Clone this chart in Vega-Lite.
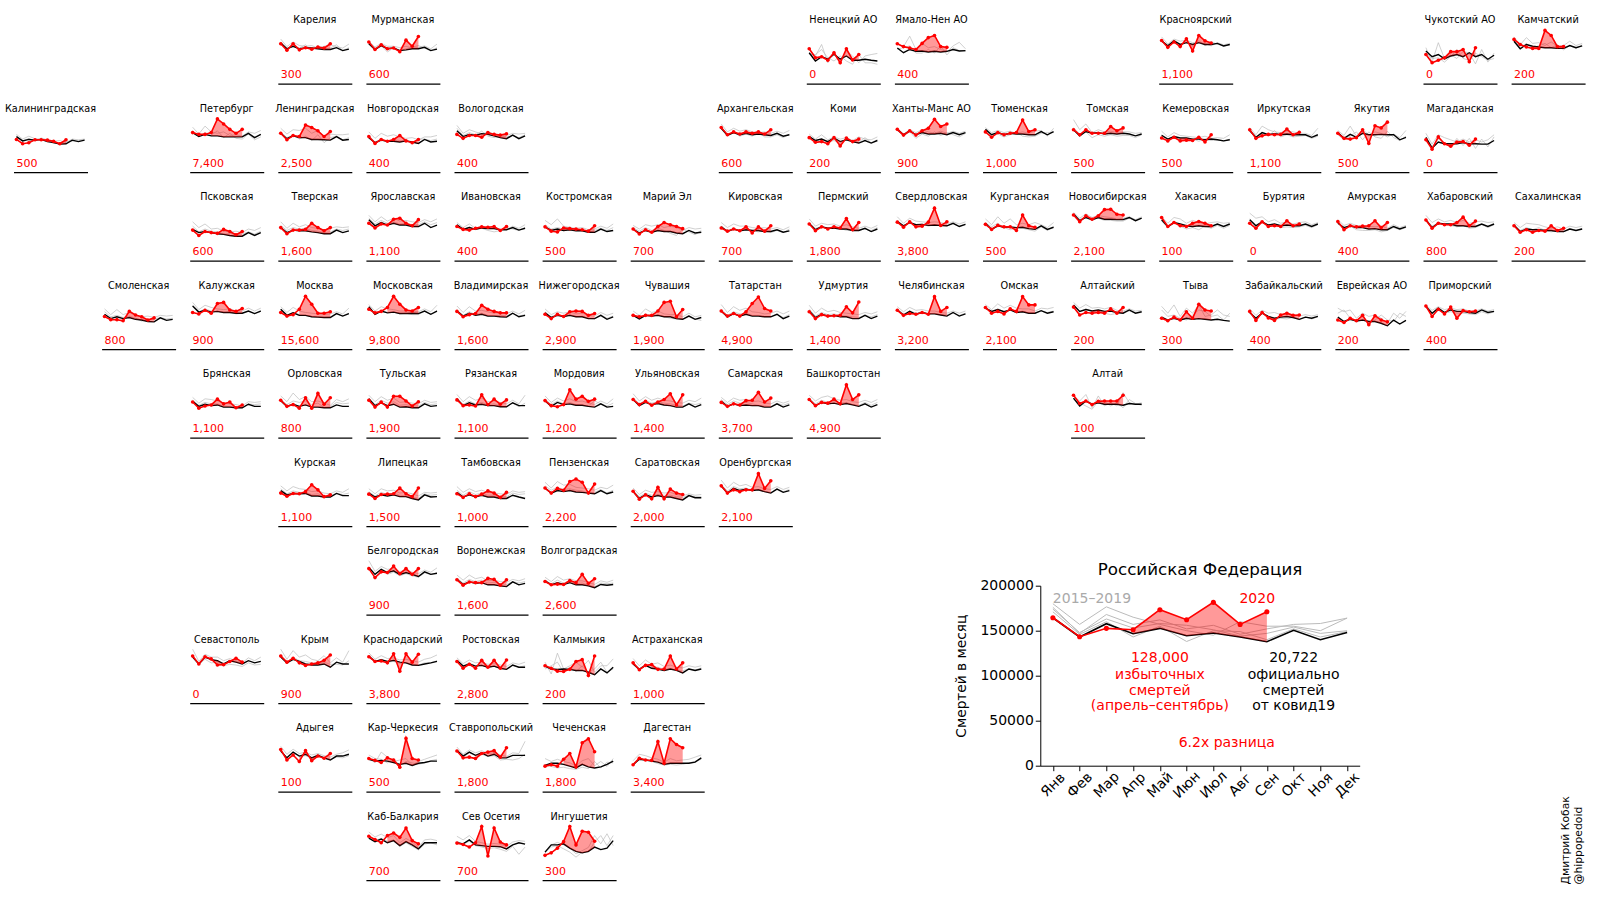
{"$schema":"https://vega.github.io/schema/vega-lite/v6.json","padding":{"left":4.5,"top":11.7,"right":5,"bottom":5},"config":{"view":{"stroke":null},"font":"DejaVu Sans"},"spacing":10.8,
"datasets":{"regions":[{"i":1,"n":"Калининградская","row":1,"col":0,"e":500},{"i":2,"n":"Карелия","row":0,"col":3,"e":300},{"i":3,"n":"Мурманская","row":0,"col":4,"e":600},{"i":4,"n":"Ненецкий АО","row":0,"col":9,"e":0},{"i":5,"n":"Ямало-Нен АО","row":0,"col":10,"e":400},{"i":6,"n":"Красноярский","row":0,"col":13,"e":1100},{"i":7,"n":"Чукотский АО","row":0,"col":16,"e":0},{"i":8,"n":"Камчатский","row":0,"col":17,"e":200},{"i":9,"n":"Петербург","row":1,"col":2,"e":7400},{"i":10,"n":"Ленинградская","row":1,"col":3,"e":2500},{"i":11,"n":"Новгородская","row":1,"col":4,"e":400},{"i":12,"n":"Вологодская","row":1,"col":5,"e":400},{"i":13,"n":"Архангельская","row":1,"col":8,"e":600},{"i":14,"n":"Коми","row":1,"col":9,"e":200},{"i":15,"n":"Ханты-Манс АО","row":1,"col":10,"e":900},{"i":16,"n":"Тюменская","row":1,"col":11,"e":1000},{"i":17,"n":"Томская","row":1,"col":12,"e":500},{"i":18,"n":"Кемеровская","row":1,"col":13,"e":500},{"i":19,"n":"Иркутская","row":1,"col":14,"e":1100},{"i":20,"n":"Якутия","row":1,"col":15,"e":500},{"i":21,"n":"Магаданская","row":1,"col":16,"e":0},{"i":22,"n":"Псковская","row":2,"col":2,"e":600},{"i":23,"n":"Тверская","row":2,"col":3,"e":1600},{"i":24,"n":"Ярославская","row":2,"col":4,"e":1100},{"i":25,"n":"Ивановская","row":2,"col":5,"e":400},{"i":26,"n":"Костромская","row":2,"col":6,"e":500},{"i":27,"n":"Марий Эл","row":2,"col":7,"e":700},{"i":28,"n":"Кировская","row":2,"col":8,"e":700},{"i":29,"n":"Пермский","row":2,"col":9,"e":1800},{"i":30,"n":"Свердловская","row":2,"col":10,"e":3800},{"i":31,"n":"Курганская","row":2,"col":11,"e":500},{"i":32,"n":"Новосибирская","row":2,"col":12,"e":2100},{"i":33,"n":"Хакасия","row":2,"col":13,"e":100},{"i":34,"n":"Бурятия","row":2,"col":14,"e":0},{"i":35,"n":"Амурская","row":2,"col":15,"e":400},{"i":36,"n":"Хабаровский","row":2,"col":16,"e":800},{"i":37,"n":"Сахалинская","row":2,"col":17,"e":200},{"i":38,"n":"Смоленская","row":3,"col":1,"e":800},{"i":39,"n":"Калужская","row":3,"col":2,"e":900},{"i":40,"n":"Москва","row":3,"col":3,"e":15600},{"i":41,"n":"Московская","row":3,"col":4,"e":9800},{"i":42,"n":"Владимирская","row":3,"col":5,"e":1600},{"i":43,"n":"Нижегородская","row":3,"col":6,"e":2900},{"i":44,"n":"Чувашия","row":3,"col":7,"e":1900},{"i":45,"n":"Татарстан","row":3,"col":8,"e":4900},{"i":46,"n":"Удмуртия","row":3,"col":9,"e":1400},{"i":47,"n":"Челябинская","row":3,"col":10,"e":3200},{"i":48,"n":"Омская","row":3,"col":11,"e":2100},{"i":49,"n":"Алтайский","row":3,"col":12,"e":200},{"i":50,"n":"Тыва","row":3,"col":13,"e":300},{"i":51,"n":"Забайкальский","row":3,"col":14,"e":400},{"i":52,"n":"Еврейская АО","row":3,"col":15,"e":200},{"i":53,"n":"Приморский","row":3,"col":16,"e":400},{"i":54,"n":"Брянская","row":4,"col":2,"e":1100},{"i":55,"n":"Орловская","row":4,"col":3,"e":800},{"i":56,"n":"Тульская","row":4,"col":4,"e":1900},{"i":57,"n":"Рязанская","row":4,"col":5,"e":1100},{"i":58,"n":"Мордовия","row":4,"col":6,"e":1200},{"i":59,"n":"Ульяновская","row":4,"col":7,"e":1400},{"i":60,"n":"Самарская","row":4,"col":8,"e":3700},{"i":61,"n":"Башкортостан","row":4,"col":9,"e":4900},{"i":62,"n":"Алтай","row":4,"col":12,"e":100},{"i":63,"n":"Курская","row":5,"col":3,"e":1100},{"i":64,"n":"Липецкая","row":5,"col":4,"e":1500},{"i":65,"n":"Тамбовская","row":5,"col":5,"e":1000},{"i":66,"n":"Пензенская","row":5,"col":6,"e":2200},{"i":67,"n":"Саратовская","row":5,"col":7,"e":2000},{"i":68,"n":"Оренбургская","row":5,"col":8,"e":2100},{"i":69,"n":"Белгородская","row":6,"col":4,"e":900},{"i":70,"n":"Воронежская","row":6,"col":5,"e":1600},{"i":71,"n":"Волгоградская","row":6,"col":6,"e":2600},{"i":72,"n":"Севастополь","row":7,"col":2,"e":0},{"i":73,"n":"Крым","row":7,"col":3,"e":900},{"i":74,"n":"Краснодарский","row":7,"col":4,"e":3800},{"i":75,"n":"Ростовская","row":7,"col":5,"e":2800},{"i":76,"n":"Калмыкия","row":7,"col":6,"e":200},{"i":77,"n":"Астраханская","row":7,"col":7,"e":1000},{"i":78,"n":"Адыгея","row":8,"col":3,"e":100},{"i":79,"n":"Кар-Черкесия","row":8,"col":4,"e":500},{"i":80,"n":"Ставропольский","row":8,"col":5,"e":1800},{"i":81,"n":"Чеченская","row":8,"col":6,"e":1800},{"i":82,"n":"Дагестан","row":8,"col":7,"e":3400},{"i":83,"n":"Каб-Балкария","row":9,"col":4,"e":700},{"i":84,"n":"Сев Осетия","row":9,"col":5,"e":700},{"i":85,"n":"Ингушетия","row":9,"col":6,"e":300}],
"panels":[
{"i":1,"m":1,"a":105,"b":101,"k":99,"v":91},{"i":1,"m":2,"a":92,"b":86,"k":87,"v":79},{"i":1,"m":3,"a":100,"b":94,"k":91,"v":82},{"i":1,"m":4,"a":93,"b":87,"k":89,"v":90},{"i":1,"m":5,"a":92,"b":95,"k":91,"v":90},{"i":1,"m":6,"a":89,"b":90,"k":85,"v":89},{"i":1,"m":7,"a":86,"b":80,"k":82,"v":86},{"i":1,"m":8,"a":88,"b":82,"k":78,"v":79},{"i":1,"m":9,"a":82,"b":85,"k":79,"v":90},{"i":1,"m":10,"a":92,"b":86,"k":89},{"i":1,"m":11,"a":90,"b":87,"k":85},{"i":1,"m":12,"a":92,"b":91,"k":89},
{"i":2,"m":1,"a":124,"b":116,"k":113,"v":111},{"i":2,"m":2,"a":103,"b":99,"k":97,"v":93},{"i":2,"m":3,"a":116,"b":106,"k":104,"v":111},{"i":2,"m":4,"a":106,"b":99,"k":97,"v":94},{"i":2,"m":5,"a":104,"b":108,"k":99,"v":100},{"i":2,"m":6,"a":106,"b":93,"k":99,"v":96},{"i":2,"m":7,"a":99,"b":105,"k":97,"v":102},{"i":2,"m":8,"a":104,"b":97,"k":95,"v":99},{"i":2,"m":9,"a":108,"b":99,"k":95,"v":111},{"i":2,"m":10,"a":103,"b":108,"k":100},{"i":2,"m":11,"a":99,"b":92,"k":92},{"i":2,"m":12,"a":110,"b":100,"k":96},
{"i":3,"m":1,"a":118,"b":114,"k":111,"v":116},{"i":3,"m":2,"a":102,"b":99,"k":95,"v":95},{"i":3,"m":3,"a":112,"b":106,"k":106,"v":108},{"i":3,"m":4,"a":104,"b":88,"k":97,"v":97},{"i":3,"m":5,"a":104,"b":100,"k":99,"v":99},{"i":3,"m":6,"a":100,"b":92,"k":92,"v":89},{"i":3,"m":7,"a":104,"b":97,"k":94,"v":121},{"i":3,"m":8,"a":99,"b":101,"k":97,"v":104},{"i":3,"m":9,"a":101,"b":106,"k":97,"v":131},{"i":3,"m":10,"a":105,"b":99,"k":101},{"i":3,"m":11,"a":97,"b":92,"k":92},{"i":3,"m":12,"a":110,"b":100,"k":96},
{"i":4,"m":1,"a":95,"b":81,"k":86,"v":97},{"i":4,"m":2,"a":77,"b":81,"k":63,"v":72},{"i":4,"m":3,"a":109,"b":95,"k":75,"v":75},{"i":4,"m":4,"a":58,"b":72,"k":68,"v":65},{"i":4,"m":5,"a":91,"b":63,"k":82,"v":86},{"i":4,"m":6,"a":54,"b":77,"k":68,"v":58},{"i":4,"m":7,"a":91,"b":63,"k":77,"v":97},{"i":4,"m":8,"a":77,"b":54,"k":65,"v":66},{"i":4,"m":9,"a":58,"b":81,"k":65,"v":81},{"i":4,"m":10,"a":77,"b":58,"k":68},{"i":4,"m":11,"a":81,"b":58,"k":65},{"i":4,"m":12,"a":84,"b":54,"k":63},
{"i":5,"m":1,"a":111,"b":96,"k":99,"v":111},{"i":5,"m":2,"a":103,"b":100,"k":86,"v":103},{"i":5,"m":3,"a":132,"b":105,"k":95,"v":99},{"i":5,"m":4,"a":95,"b":85,"k":90,"v":95},{"i":5,"m":5,"a":112,"b":85,"k":91,"v":112},{"i":5,"m":6,"a":100,"b":95,"k":88,"v":128},{"i":5,"m":7,"a":103,"b":85,"k":90,"v":134},{"i":5,"m":8,"a":95,"b":105,"k":88,"v":103},{"i":5,"m":9,"a":88,"b":80,"k":90,"v":101},{"i":5,"m":10,"a":105,"b":100,"k":95},{"i":5,"m":11,"a":115,"b":92,"k":91},{"i":5,"m":12,"a":97,"b":90,"k":92},
{"i":6,"m":1,"a":130,"b":122,"k":119,"v":120},{"i":6,"m":2,"a":110,"b":103,"k":105,"v":101},{"i":6,"m":3,"a":124,"b":118,"k":119,"v":116},{"i":6,"m":4,"a":118,"b":104,"k":109,"v":103},{"i":6,"m":5,"a":121,"b":118,"k":114,"v":125},{"i":6,"m":6,"a":114,"b":104,"k":109,"v":91},{"i":6,"m":7,"a":116,"b":120,"k":114,"v":134},{"i":6,"m":8,"a":112,"b":105,"k":109,"v":119},{"i":6,"m":9,"a":105,"b":116,"k":109,"v":113},{"i":6,"m":10,"a":114,"b":110,"k":112},{"i":6,"m":11,"a":108,"b":104,"k":105},{"i":6,"m":12,"a":112,"b":108,"k":109},
{"i":7,"m":1,"a":100,"b":85,"k":91,"v":81},{"i":7,"m":2,"a":60,"b":70,"k":75,"v":58},{"i":7,"m":3,"a":114,"b":72,"k":81,"v":65},{"i":7,"m":4,"a":70,"b":60,"k":69,"v":72},{"i":7,"m":5,"a":80,"b":75,"k":77,"v":89},{"i":7,"m":6,"a":70,"b":95,"k":81,"v":89},{"i":7,"m":7,"a":90,"b":70,"k":75,"v":95},{"i":7,"m":8,"a":85,"b":65,"k":86,"v":61},{"i":7,"m":9,"a":55,"b":85,"k":75,"v":100},{"i":7,"m":10,"a":95,"b":75,"k":81},{"i":7,"m":11,"a":60,"b":65,"k":68},{"i":7,"m":12,"a":85,"b":70,"k":79},
{"i":8,"m":1,"a":130,"b":122,"k":118,"v":123},{"i":8,"m":2,"a":108,"b":100,"k":97,"v":109},{"i":8,"m":3,"a":128,"b":112,"k":109,"v":102},{"i":8,"m":4,"a":112,"b":98,"k":104,"v":98},{"i":8,"m":5,"a":114,"b":106,"k":102,"v":98},{"i":8,"m":6,"a":106,"b":112,"k":100,"v":148},{"i":8,"m":7,"a":116,"b":100,"k":100,"v":134},{"i":8,"m":8,"a":104,"b":108,"k":98,"v":103},{"i":8,"m":9,"a":106,"b":94,"k":98,"v":103},{"i":8,"m":10,"a":118,"b":106,"k":106},{"i":8,"m":11,"a":106,"b":98,"k":100},{"i":8,"m":12,"a":112,"b":108,"k":105},
{"i":9,"m":1,"a":125,"b":115,"k":110,"v":110},{"i":9,"m":2,"a":106,"b":100,"k":99,"v":105},{"i":9,"m":3,"a":128,"b":110,"k":105,"v":105},{"i":9,"m":4,"a":112,"b":103,"k":101,"v":110},{"i":9,"m":5,"a":108,"b":115,"k":101,"v":148},{"i":9,"m":6,"a":112,"b":96,"k":98,"v":134},{"i":9,"m":7,"a":102,"b":108,"k":98,"v":119},{"i":9,"m":8,"a":104,"b":94,"k":98,"v":108},{"i":9,"m":9,"a":100,"b":92,"k":98,"v":119},{"i":9,"m":10,"a":112,"b":106,"k":108},{"i":9,"m":11,"a":108,"b":90,"k":96},{"i":9,"m":12,"a":116,"b":98,"k":105},
{"i":10,"m":1,"a":122,"b":112,"k":108,"v":108},{"i":10,"m":2,"a":106,"b":96,"k":93,"v":90},{"i":10,"m":3,"a":118,"b":104,"k":101,"v":102},{"i":10,"m":4,"a":116,"b":92,"k":96,"v":99},{"i":10,"m":5,"a":122,"b":100,"k":96,"v":131},{"i":10,"m":6,"a":108,"b":88,"k":91,"v":124},{"i":10,"m":7,"a":116,"b":104,"k":91,"v":115},{"i":10,"m":8,"a":100,"b":82,"k":90,"v":99},{"i":10,"m":9,"a":106,"b":96,"k":89,"v":113},{"i":10,"m":10,"a":104,"b":100,"k":99},{"i":10,"m":11,"a":104,"b":90,"k":89},{"i":10,"m":12,"a":106,"b":96,"k":91},
{"i":11,"m":1,"a":112,"b":102,"k":96,"v":99},{"i":11,"m":2,"a":94,"b":84,"k":82,"v":80},{"i":11,"m":3,"a":108,"b":92,"k":89,"v":91},{"i":11,"m":4,"a":100,"b":84,"k":86,"v":86},{"i":11,"m":5,"a":104,"b":90,"k":86,"v":91},{"i":11,"m":6,"a":98,"b":88,"k":84,"v":102},{"i":11,"m":7,"a":94,"b":86,"k":87,"v":87},{"i":11,"m":8,"a":96,"b":80,"k":84,"v":82},{"i":11,"m":9,"a":90,"b":92,"k":80,"v":91},{"i":11,"m":10,"a":98,"b":92,"k":91},{"i":11,"m":11,"a":98,"b":88,"k":84},{"i":11,"m":12,"a":102,"b":92,"k":86},
{"i":12,"m":1,"a":130,"b":122,"k":115,"v":105},{"i":12,"m":2,"a":108,"b":102,"k":99,"v":94},{"i":12,"m":3,"a":118,"b":110,"k":105,"v":102},{"i":12,"m":4,"a":112,"b":104,"k":102,"v":102},{"i":12,"m":5,"a":106,"b":114,"k":107,"v":97},{"i":12,"m":6,"a":112,"b":100,"k":105,"v":110},{"i":12,"m":7,"a":106,"b":96,"k":101,"v":105},{"i":12,"m":8,"a":104,"b":100,"k":96,"v":103},{"i":12,"m":9,"a":102,"b":98,"k":93,"v":107},{"i":12,"m":10,"a":108,"b":102,"k":103},{"i":12,"m":11,"a":106,"b":96,"k":93},{"i":12,"m":12,"a":108,"b":104,"k":101},
{"i":13,"m":1,"a":134,"b":126,"k":122,"v":124},{"i":13,"m":2,"a":112,"b":106,"k":102,"v":104},{"i":13,"m":3,"a":122,"b":112,"k":110,"v":112},{"i":13,"m":4,"a":114,"b":100,"k":104,"v":106},{"i":13,"m":5,"a":118,"b":106,"k":108,"v":112},{"i":13,"m":6,"a":112,"b":100,"k":104,"v":108},{"i":13,"m":7,"a":110,"b":112,"k":106,"v":112},{"i":13,"m":8,"a":112,"b":98,"k":104,"v":106},{"i":13,"m":9,"a":108,"b":98,"k":102,"v":118},{"i":13,"m":10,"a":114,"b":104,"k":108},{"i":13,"m":11,"a":108,"b":96,"k":100},{"i":13,"m":12,"a":116,"b":106,"k":104},
{"i":14,"m":1,"a":106,"b":100,"k":99,"v":96},{"i":14,"m":2,"a":92,"b":86,"k":88,"v":83},{"i":14,"m":3,"a":104,"b":92,"k":92,"v":85},{"i":14,"m":4,"a":90,"b":84,"k":85,"v":79},{"i":14,"m":5,"a":98,"b":88,"k":95,"v":96},{"i":14,"m":6,"a":92,"b":80,"k":85,"v":73},{"i":14,"m":7,"a":96,"b":92,"k":90,"v":95},{"i":14,"m":8,"a":88,"b":82,"k":85,"v":85},{"i":14,"m":9,"a":98,"b":84,"k":81,"v":92},{"i":14,"m":10,"a":92,"b":96,"k":88},{"i":14,"m":11,"a":90,"b":82,"k":81},{"i":14,"m":12,"a":98,"b":90,"k":88},
{"i":15,"m":1,"a":122,"b":116,"k":119,"v":119},{"i":15,"m":2,"a":106,"b":100,"k":104,"v":103},{"i":15,"m":3,"a":118,"b":112,"k":115,"v":115},{"i":15,"m":4,"a":110,"b":94,"k":104,"v":103},{"i":15,"m":5,"a":118,"b":106,"k":110,"v":115},{"i":15,"m":6,"a":112,"b":100,"k":106,"v":122},{"i":15,"m":7,"a":108,"b":112,"k":106,"v":147},{"i":15,"m":8,"a":114,"b":102,"k":108,"v":127},{"i":15,"m":9,"a":108,"b":110,"k":104,"v":134},{"i":15,"m":10,"a":114,"b":104,"k":110},{"i":15,"m":11,"a":108,"b":98,"k":104},{"i":15,"m":12,"a":114,"b":108,"k":110},
{"i":16,"m":1,"a":124,"b":112,"k":119,"v":112},{"i":16,"m":2,"a":110,"b":100,"k":104,"v":97},{"i":16,"m":3,"a":116,"b":106,"k":110,"v":110},{"i":16,"m":4,"a":110,"b":98,"k":104,"v":104},{"i":16,"m":5,"a":114,"b":104,"k":108,"v":108},{"i":16,"m":6,"a":108,"b":112,"k":106,"v":110},{"i":16,"m":7,"a":112,"b":100,"k":106,"v":145},{"i":16,"m":8,"a":108,"b":98,"k":104,"v":113},{"i":16,"m":9,"a":114,"b":100,"k":104,"v":118},{"i":16,"m":10,"a":116,"b":108,"k":113},{"i":16,"m":11,"a":100,"b":110,"k":104},{"i":16,"m":12,"a":122,"b":110,"k":113},
{"i":17,"m":1,"a":146,"b":124,"k":118,"v":118},{"i":17,"m":2,"a":118,"b":106,"k":101,"v":104},{"i":17,"m":3,"a":134,"b":112,"k":113,"v":118},{"i":17,"m":4,"a":110,"b":96,"k":108,"v":108},{"i":17,"m":5,"a":118,"b":104,"k":110,"v":108},{"i":17,"m":6,"a":112,"b":100,"k":106,"v":108},{"i":17,"m":7,"a":114,"b":104,"k":108,"v":127},{"i":17,"m":8,"a":110,"b":100,"k":106,"v":115},{"i":17,"m":9,"a":112,"b":102,"k":108,"v":123},{"i":17,"m":10,"a":112,"b":102,"k":106},{"i":17,"m":11,"a":108,"b":96,"k":101},{"i":17,"m":12,"a":110,"b":104,"k":106},
{"i":18,"m":1,"a":114,"b":104,"k":102,"v":95},{"i":18,"m":2,"a":98,"b":90,"k":92,"v":87},{"i":18,"m":3,"a":110,"b":98,"k":99,"v":97},{"i":18,"m":4,"a":102,"b":90,"k":95,"v":87},{"i":18,"m":5,"a":100,"b":88,"k":95,"v":89},{"i":18,"m":6,"a":98,"b":92,"k":92,"v":88},{"i":18,"m":7,"a":96,"b":86,"k":92,"v":97},{"i":18,"m":8,"a":100,"b":92,"k":90,"v":84},{"i":18,"m":9,"a":94,"b":88,"k":92,"v":104},{"i":18,"m":10,"a":96,"b":90,"k":90},{"i":18,"m":11,"a":94,"b":86,"k":87},{"i":18,"m":12,"a":104,"b":92,"k":90},
{"i":19,"m":1,"a":124,"b":112,"k":116,"v":118},{"i":19,"m":2,"a":104,"b":96,"k":97,"v":94},{"i":19,"m":3,"a":128,"b":108,"k":110,"v":101},{"i":19,"m":4,"a":118,"b":100,"k":104,"v":105},{"i":19,"m":5,"a":112,"b":116,"k":107,"v":104},{"i":19,"m":6,"a":110,"b":98,"k":104,"v":105},{"i":19,"m":7,"a":114,"b":104,"k":106,"v":120},{"i":19,"m":8,"a":112,"b":98,"k":104,"v":104},{"i":19,"m":9,"a":108,"b":100,"k":104,"v":111},{"i":19,"m":10,"a":108,"b":102,"k":104},{"i":19,"m":11,"a":102,"b":94,"k":97},{"i":19,"m":12,"a":122,"b":100,"k":104},
{"i":20,"m":1,"a":116,"b":104,"k":110,"v":108},{"i":20,"m":2,"a":102,"b":90,"k":94,"v":94},{"i":20,"m":3,"a":128,"b":100,"k":105,"v":92},{"i":20,"m":4,"a":100,"b":112,"k":97,"v":96},{"i":20,"m":5,"a":118,"b":90,"k":108,"v":118},{"i":20,"m":6,"a":104,"b":112,"k":104,"v":80},{"i":20,"m":7,"a":112,"b":98,"k":104,"v":129},{"i":20,"m":8,"a":108,"b":94,"k":105,"v":123},{"i":20,"m":9,"a":98,"b":114,"k":104,"v":139},{"i":20,"m":10,"a":106,"b":96,"k":104},{"i":20,"m":11,"a":96,"b":88,"k":90},{"i":20,"m":12,"a":116,"b":100,"k":97},
{"i":21,"m":1,"a":108,"b":94,"k":97,"v":90},{"i":21,"m":2,"a":78,"b":72,"k":67,"v":64},{"i":21,"m":3,"a":104,"b":92,"k":84,"v":98},{"i":21,"m":4,"a":96,"b":82,"k":79,"v":79},{"i":21,"m":5,"a":90,"b":70,"k":79,"v":72},{"i":21,"m":6,"a":84,"b":94,"k":79,"v":84},{"i":21,"m":7,"a":92,"b":74,"k":82,"v":85},{"i":21,"m":8,"a":84,"b":94,"k":79,"v":75},{"i":21,"m":9,"a":90,"b":66,"k":79,"v":92},{"i":21,"m":10,"a":84,"b":92,"k":78},{"i":21,"m":11,"a":90,"b":70,"k":78},{"i":21,"m":12,"a":104,"b":98,"k":88},
{"i":22,"m":1,"a":108,"b":96,"k":87,"v":85},{"i":22,"m":2,"a":92,"b":80,"k":78,"v":70},{"i":22,"m":3,"a":102,"b":88,"k":81,"v":81},{"i":22,"m":4,"a":88,"b":82,"k":78,"v":78},{"i":22,"m":5,"a":90,"b":80,"k":75,"v":76},{"i":22,"m":6,"a":82,"b":74,"k":73,"v":87},{"i":22,"m":7,"a":80,"b":76,"k":70,"v":81},{"i":22,"m":8,"a":82,"b":72,"k":68,"v":72},{"i":22,"m":9,"a":78,"b":74,"k":68,"v":81},{"i":22,"m":10,"a":88,"b":80,"k":78},{"i":22,"m":11,"a":84,"b":74,"k":70},{"i":22,"m":12,"a":92,"b":82,"k":78},
{"i":23,"m":1,"a":108,"b":98,"k":92,"v":92},{"i":23,"m":2,"a":90,"b":84,"k":78,"v":75},{"i":23,"m":3,"a":104,"b":92,"k":85,"v":85},{"i":23,"m":4,"a":94,"b":88,"k":83,"v":85},{"i":23,"m":5,"a":100,"b":90,"k":83,"v":87},{"i":23,"m":6,"a":92,"b":84,"k":80,"v":104},{"i":23,"m":7,"a":90,"b":82,"k":78,"v":92},{"i":23,"m":8,"a":86,"b":78,"k":75,"v":83},{"i":23,"m":9,"a":90,"b":80,"k":75,"v":92},{"i":23,"m":10,"a":94,"b":88,"k":85},{"i":23,"m":11,"a":92,"b":84,"k":78},{"i":23,"m":12,"a":94,"b":88,"k":83},
{"i":24,"m":1,"a":126,"b":118,"k":114,"v":104},{"i":24,"m":2,"a":108,"b":102,"k":97,"v":91},{"i":24,"m":3,"a":122,"b":112,"k":106,"v":102},{"i":24,"m":4,"a":110,"b":104,"k":99,"v":99},{"i":24,"m":5,"a":118,"b":108,"k":104,"v":115},{"i":24,"m":6,"a":110,"b":102,"k":99,"v":118},{"i":24,"m":7,"a":112,"b":104,"k":99,"v":104},{"i":24,"m":8,"a":108,"b":100,"k":95,"v":97},{"i":24,"m":9,"a":106,"b":100,"k":95,"v":114},{"i":24,"m":10,"a":114,"b":108,"k":104},{"i":24,"m":11,"a":108,"b":100,"k":92},{"i":24,"m":12,"a":116,"b":106,"k":99},
{"i":25,"m":1,"a":106,"b":100,"k":100,"v":95},{"i":25,"m":2,"a":92,"b":86,"k":87,"v":87},{"i":25,"m":3,"a":102,"b":94,"k":92,"v":85},{"i":25,"m":4,"a":90,"b":86,"k":87,"v":90},{"i":25,"m":5,"a":96,"b":90,"k":91,"v":94},{"i":25,"m":6,"a":90,"b":84,"k":89,"v":93},{"i":25,"m":7,"a":92,"b":80,"k":89,"v":95},{"i":25,"m":8,"a":88,"b":84,"k":86,"v":84},{"i":25,"m":9,"a":86,"b":92,"k":86,"v":95},{"i":25,"m":10,"a":96,"b":88,"k":92},{"i":25,"m":11,"a":90,"b":84,"k":85},{"i":25,"m":12,"a":100,"b":92,"k":90},
{"i":26,"m":1,"a":112,"b":100,"k":94,"v":94},{"i":26,"m":2,"a":100,"b":88,"k":84,"v":82},{"i":26,"m":3,"a":116,"b":92,"k":88,"v":80},{"i":26,"m":4,"a":96,"b":88,"k":84,"v":91},{"i":26,"m":5,"a":92,"b":94,"k":86,"v":89},{"i":26,"m":6,"a":90,"b":84,"k":83,"v":88},{"i":26,"m":7,"a":92,"b":86,"k":83,"v":86},{"i":26,"m":8,"a":86,"b":80,"k":79,"v":82},{"i":26,"m":9,"a":88,"b":84,"k":79,"v":97},{"i":26,"m":10,"a":96,"b":90,"k":88},{"i":26,"m":11,"a":90,"b":84,"k":81},{"i":26,"m":12,"a":102,"b":92,"k":84},
{"i":27,"m":1,"a":98,"b":92,"k":88,"v":88},{"i":27,"m":2,"a":88,"b":82,"k":77,"v":74},{"i":27,"m":3,"a":100,"b":92,"k":84,"v":86},{"i":27,"m":4,"a":96,"b":84,"k":79,"v":79},{"i":27,"m":5,"a":100,"b":90,"k":84,"v":95},{"i":27,"m":6,"a":92,"b":84,"k":81,"v":106},{"i":27,"m":7,"a":96,"b":76,"k":81,"v":100},{"i":27,"m":8,"a":92,"b":70,"k":77,"v":95},{"i":27,"m":9,"a":84,"b":88,"k":75,"v":89},{"i":27,"m":10,"a":92,"b":80,"k":84},{"i":27,"m":11,"a":88,"b":72,"k":77},{"i":27,"m":12,"a":90,"b":84,"k":79},
{"i":28,"m":1,"a":106,"b":96,"k":94,"v":91},{"i":28,"m":2,"a":92,"b":84,"k":81,"v":82},{"i":28,"m":3,"a":102,"b":90,"k":88,"v":88},{"i":28,"m":4,"a":96,"b":84,"k":83,"v":83},{"i":28,"m":5,"a":96,"b":88,"k":86,"v":94},{"i":28,"m":6,"a":92,"b":84,"k":84,"v":77},{"i":28,"m":7,"a":90,"b":80,"k":84,"v":94},{"i":28,"m":8,"a":92,"b":84,"k":81,"v":82},{"i":28,"m":9,"a":88,"b":78,"k":81,"v":97},{"i":28,"m":10,"a":92,"b":84,"k":86},{"i":28,"m":11,"a":86,"b":78,"k":79},{"i":28,"m":12,"a":94,"b":88,"k":83},
{"i":29,"m":1,"a":116,"b":106,"k":103,"v":102},{"i":29,"m":2,"a":96,"b":90,"k":86,"v":83},{"i":29,"m":3,"a":104,"b":94,"k":94,"v":94},{"i":29,"m":4,"a":100,"b":90,"k":90,"v":88},{"i":29,"m":5,"a":102,"b":96,"k":91,"v":94},{"i":29,"m":6,"a":96,"b":90,"k":88,"v":91},{"i":29,"m":7,"a":100,"b":84,"k":88,"v":117},{"i":29,"m":8,"a":94,"b":86,"k":84,"v":86},{"i":29,"m":9,"a":90,"b":86,"k":84,"v":106},{"i":29,"m":10,"a":96,"b":88,"k":90},{"i":29,"m":11,"a":90,"b":84,"k":81},{"i":29,"m":12,"a":98,"b":92,"k":88},
{"i":30,"m":1,"a":122,"b":112,"k":109,"v":107},{"i":30,"m":2,"a":104,"b":98,"k":97,"v":93},{"i":30,"m":3,"a":118,"b":106,"k":106,"v":108},{"i":30,"m":4,"a":110,"b":98,"k":100,"v":94},{"i":30,"m":5,"a":108,"b":102,"k":101,"v":96},{"i":30,"m":6,"a":106,"b":96,"k":98,"v":107},{"i":30,"m":7,"a":108,"b":100,"k":99,"v":146},{"i":30,"m":8,"a":106,"b":96,"k":98,"v":98},{"i":30,"m":9,"a":102,"b":96,"k":97,"v":108},{"i":30,"m":10,"a":108,"b":104,"k":104},{"i":30,"m":11,"a":102,"b":96,"k":95},{"i":30,"m":12,"a":108,"b":102,"k":101},
{"i":31,"m":1,"a":116,"b":106,"k":104,"v":101},{"i":31,"m":2,"a":100,"b":94,"k":87,"v":87},{"i":31,"m":3,"a":122,"b":104,"k":97,"v":98},{"i":31,"m":4,"a":104,"b":92,"k":93,"v":94},{"i":31,"m":5,"a":116,"b":86,"k":94,"v":94},{"i":31,"m":6,"a":100,"b":92,"k":92,"v":84},{"i":31,"m":7,"a":104,"b":90,"k":93,"v":127},{"i":31,"m":8,"a":100,"b":86,"k":89,"v":97},{"i":31,"m":9,"a":106,"b":82,"k":87,"v":93},{"i":31,"m":10,"a":100,"b":94,"k":97},{"i":31,"m":11,"a":92,"b":84,"k":87},{"i":31,"m":12,"a":106,"b":94,"k":93},
{"i":32,"m":1,"a":134,"b":128,"k":130,"v":127},{"i":32,"m":2,"a":118,"b":114,"k":111,"v":108},{"i":32,"m":3,"a":130,"b":122,"k":120,"v":125},{"i":32,"m":4,"a":120,"b":116,"k":114,"v":115},{"i":32,"m":5,"a":126,"b":118,"k":120,"v":125},{"i":32,"m":6,"a":122,"b":112,"k":115,"v":142},{"i":32,"m":7,"a":120,"b":112,"k":115,"v":143},{"i":32,"m":8,"a":116,"b":110,"k":114,"v":129},{"i":32,"m":9,"a":118,"b":110,"k":114,"v":127},{"i":32,"m":10,"a":122,"b":118,"k":120},{"i":32,"m":11,"a":114,"b":110,"k":111},{"i":32,"m":12,"a":122,"b":118,"k":118},
{"i":33,"m":1,"a":122,"b":110,"k":114,"v":120},{"i":33,"m":2,"a":104,"b":92,"k":95,"v":95},{"i":33,"m":3,"a":120,"b":104,"k":106,"v":106},{"i":33,"m":4,"a":116,"b":96,"k":102,"v":97},{"i":33,"m":5,"a":104,"b":88,"k":97,"v":95},{"i":33,"m":6,"a":112,"b":92,"k":95,"v":104},{"i":33,"m":7,"a":106,"b":86,"k":97,"v":109},{"i":33,"m":8,"a":102,"b":96,"k":95,"v":104},{"i":33,"m":9,"a":106,"b":90,"k":95,"v":97},{"i":33,"m":10,"a":108,"b":98,"k":102},{"i":33,"m":11,"a":104,"b":90,"k":95},{"i":33,"m":12,"a":106,"b":98,"k":102},
{"i":34,"m":1,"a":132,"b":116,"k":114,"v":104},{"i":34,"m":2,"a":118,"b":100,"k":97,"v":90},{"i":34,"m":3,"a":122,"b":106,"k":108,"v":108},{"i":34,"m":4,"a":108,"b":96,"k":99,"v":95},{"i":34,"m":5,"a":114,"b":100,"k":102,"v":97},{"i":34,"m":6,"a":104,"b":92,"k":97,"v":95},{"i":34,"m":7,"a":108,"b":94,"k":99,"v":111},{"i":34,"m":8,"a":102,"b":92,"k":97,"v":97},{"i":34,"m":9,"a":106,"b":94,"k":97,"v":102},{"i":34,"m":10,"a":108,"b":98,"k":102},{"i":34,"m":11,"a":100,"b":92,"k":95},{"i":34,"m":12,"a":106,"b":100,"k":102},
{"i":35,"m":1,"a":114,"b":106,"k":104,"v":109},{"i":35,"m":2,"a":98,"b":90,"k":92,"v":86},{"i":35,"m":3,"a":104,"b":96,"k":97,"v":97},{"i":35,"m":4,"a":98,"b":86,"k":92,"v":94},{"i":35,"m":5,"a":94,"b":84,"k":92,"v":96},{"i":35,"m":6,"a":96,"b":84,"k":88,"v":97},{"i":35,"m":7,"a":94,"b":86,"k":89,"v":111},{"i":35,"m":8,"a":96,"b":80,"k":86,"v":92},{"i":35,"m":9,"a":90,"b":84,"k":86,"v":106},{"i":35,"m":10,"a":100,"b":92,"k":95},{"i":35,"m":11,"a":92,"b":86,"k":88},{"i":35,"m":12,"a":98,"b":92,"k":94},
{"i":36,"m":1,"a":126,"b":116,"k":113,"v":113},{"i":36,"m":2,"a":106,"b":96,"k":92,"v":90},{"i":36,"m":3,"a":116,"b":106,"k":104,"v":104},{"i":36,"m":4,"a":108,"b":100,"k":102,"v":100},{"i":36,"m":5,"a":112,"b":98,"k":102,"v":100},{"i":36,"m":6,"a":106,"b":94,"k":97,"v":106},{"i":36,"m":7,"a":112,"b":98,"k":97,"v":121},{"i":36,"m":8,"a":104,"b":90,"k":95,"v":97},{"i":36,"m":9,"a":108,"b":92,"k":95,"v":110},{"i":36,"m":10,"a":110,"b":100,"k":102},{"i":36,"m":11,"a":106,"b":92,"k":95},{"i":36,"m":12,"a":108,"b":100,"k":102},
{"i":37,"m":1,"a":106,"b":98,"k":99,"v":97},{"i":37,"m":2,"a":92,"b":84,"k":81,"v":79},{"i":37,"m":3,"a":104,"b":92,"k":88,"v":86},{"i":37,"m":4,"a":102,"b":86,"k":86,"v":79},{"i":37,"m":5,"a":100,"b":92,"k":86,"v":84},{"i":37,"m":6,"a":94,"b":84,"k":84,"v":82},{"i":37,"m":7,"a":90,"b":80,"k":84,"v":97},{"i":37,"m":8,"a":94,"b":84,"k":81,"v":84},{"i":37,"m":9,"a":88,"b":80,"k":81,"v":90},{"i":37,"m":10,"a":96,"b":90,"k":88},{"i":37,"m":11,"a":92,"b":84,"k":84},{"i":37,"m":12,"a":96,"b":90,"k":88},
{"i":38,"m":1,"a":112,"b":104,"k":97,"v":91},{"i":38,"m":2,"a":96,"b":90,"k":85,"v":82},{"i":38,"m":3,"a":110,"b":94,"k":90,"v":82},{"i":38,"m":4,"a":96,"b":88,"k":85,"v":79},{"i":38,"m":5,"a":102,"b":92,"k":88,"v":105},{"i":38,"m":6,"a":94,"b":86,"k":83,"v":95},{"i":38,"m":7,"a":90,"b":78,"k":81,"v":90},{"i":38,"m":8,"a":92,"b":82,"k":77,"v":81},{"i":38,"m":9,"a":88,"b":84,"k":76,"v":87},{"i":38,"m":10,"a":94,"b":88,"k":87},{"i":38,"m":11,"a":92,"b":84,"k":80},{"i":38,"m":12,"a":94,"b":86,"k":83},
{"i":39,"m":1,"a":130,"b":122,"k":120,"v":102},{"i":39,"m":2,"a":110,"b":104,"k":103,"v":98},{"i":39,"m":3,"a":122,"b":112,"k":108,"v":108},{"i":39,"m":4,"a":116,"b":106,"k":103,"v":100},{"i":39,"m":5,"a":112,"b":104,"k":105,"v":127},{"i":39,"m":6,"a":110,"b":102,"k":102,"v":130},{"i":39,"m":7,"a":112,"b":104,"k":102,"v":109},{"i":39,"m":8,"a":106,"b":98,"k":100,"v":105},{"i":39,"m":9,"a":106,"b":100,"k":100,"v":113},{"i":39,"m":10,"a":114,"b":106,"k":106},{"i":39,"m":11,"a":106,"b":98,"k":99},{"i":39,"m":12,"a":114,"b":108,"k":106},
{"i":40,"m":1,"a":118,"b":110,"k":111,"v":102},{"i":40,"m":2,"a":102,"b":94,"k":94,"v":92},{"i":40,"m":3,"a":116,"b":102,"k":101,"v":96},{"i":40,"m":4,"a":106,"b":96,"k":94,"v":111},{"i":40,"m":5,"a":102,"b":94,"k":94,"v":147},{"i":40,"m":6,"a":100,"b":90,"k":90,"v":125},{"i":40,"m":7,"a":98,"b":90,"k":89,"v":100},{"i":40,"m":8,"a":96,"b":88,"k":88,"v":100},{"i":40,"m":9,"a":98,"b":90,"k":88,"v":104},{"i":40,"m":10,"a":104,"b":98,"k":99},{"i":40,"m":11,"a":98,"b":92,"k":92},{"i":40,"m":12,"a":114,"b":100,"k":99},
{"i":41,"m":1,"a":124,"b":116,"k":118,"v":111},{"i":41,"m":2,"a":106,"b":100,"k":97,"v":101},{"i":41,"m":3,"a":118,"b":108,"k":106,"v":105},{"i":41,"m":4,"a":112,"b":102,"k":101,"v":116},{"i":41,"m":5,"a":110,"b":104,"k":103,"v":147},{"i":41,"m":6,"a":106,"b":98,"k":99,"v":125},{"i":41,"m":7,"a":106,"b":100,"k":99,"v":109},{"i":41,"m":8,"a":106,"b":96,"k":100,"v":106},{"i":41,"m":9,"a":104,"b":96,"k":99,"v":116},{"i":41,"m":10,"a":112,"b":106,"k":106},{"i":41,"m":11,"a":104,"b":96,"k":97},{"i":41,"m":12,"a":122,"b":108,"k":106},
{"i":42,"m":1,"a":120,"b":110,"k":106,"v":105},{"i":42,"m":2,"a":102,"b":94,"k":92,"v":90},{"i":42,"m":3,"a":118,"b":104,"k":100,"v":96},{"i":42,"m":4,"a":106,"b":96,"k":94,"v":99},{"i":42,"m":5,"a":108,"b":100,"k":97,"v":122},{"i":42,"m":6,"a":104,"b":94,"k":92,"v":111},{"i":42,"m":7,"a":100,"b":92,"k":92,"v":105},{"i":42,"m":8,"a":102,"b":94,"k":90,"v":101},{"i":42,"m":9,"a":98,"b":92,"k":89,"v":101},{"i":42,"m":10,"a":106,"b":100,"k":100},{"i":42,"m":11,"a":98,"b":92,"k":90},{"i":42,"m":12,"a":108,"b":96,"k":94},
{"i":43,"m":1,"a":112,"b":104,"k":101,"v":97},{"i":43,"m":2,"a":96,"b":90,"k":88,"v":85},{"i":43,"m":3,"a":104,"b":98,"k":94,"v":97},{"i":43,"m":4,"a":100,"b":90,"k":91,"v":91},{"i":43,"m":5,"a":104,"b":96,"k":94,"v":104},{"i":43,"m":6,"a":98,"b":90,"k":90,"v":106},{"i":43,"m":7,"a":100,"b":92,"k":90,"v":105},{"i":43,"m":8,"a":94,"b":86,"k":85,"v":94},{"i":43,"m":9,"a":92,"b":84,"k":85,"v":99},{"i":43,"m":10,"a":102,"b":96,"k":94},{"i":43,"m":11,"a":94,"b":86,"k":83},{"i":43,"m":12,"a":100,"b":92,"k":90},
{"i":44,"m":1,"a":106,"b":96,"k":94,"v":94},{"i":44,"m":2,"a":94,"b":84,"k":84,"v":90},{"i":44,"m":3,"a":112,"b":98,"k":94,"v":94},{"i":44,"m":4,"a":102,"b":92,"k":92,"v":94},{"i":44,"m":5,"a":106,"b":96,"k":94,"v":106},{"i":44,"m":6,"a":98,"b":90,"k":90,"v":130},{"i":44,"m":7,"a":96,"b":86,"k":90,"v":133},{"i":44,"m":8,"a":96,"b":84,"k":85,"v":90},{"i":44,"m":9,"a":90,"b":84,"k":83,"v":110},{"i":44,"m":10,"a":100,"b":94,"k":92},{"i":44,"m":11,"a":90,"b":84,"k":83},{"i":44,"m":12,"a":94,"b":80,"k":88},
{"i":45,"m":1,"a":124,"b":112,"k":106,"v":106},{"i":45,"m":2,"a":102,"b":94,"k":90,"v":92},{"i":45,"m":3,"a":118,"b":104,"k":99,"v":99},{"i":45,"m":4,"a":108,"b":98,"k":92,"v":92},{"i":45,"m":5,"a":114,"b":100,"k":97,"v":104},{"i":45,"m":6,"a":104,"b":94,"k":92,"v":127},{"i":45,"m":7,"a":102,"b":94,"k":92,"v":145},{"i":45,"m":8,"a":98,"b":90,"k":90,"v":113},{"i":45,"m":9,"a":100,"b":90,"k":90,"v":106},{"i":45,"m":10,"a":106,"b":98,"k":97},{"i":45,"m":11,"a":98,"b":88,"k":85},{"i":45,"m":12,"a":106,"b":96,"k":92},
{"i":46,"m":1,"a":122,"b":112,"k":106,"v":104},{"i":46,"m":2,"a":100,"b":92,"k":88,"v":85},{"i":46,"m":3,"a":114,"b":102,"k":97,"v":96},{"i":46,"m":4,"a":104,"b":96,"k":92,"v":92},{"i":46,"m":5,"a":108,"b":98,"k":94,"v":93},{"i":46,"m":6,"a":102,"b":94,"k":90,"v":94},{"i":46,"m":7,"a":100,"b":92,"k":90,"v":118},{"i":46,"m":8,"a":98,"b":90,"k":85,"v":101},{"i":46,"m":9,"a":96,"b":88,"k":85,"v":131},{"i":46,"m":10,"a":102,"b":94,"k":94},{"i":46,"m":11,"a":98,"b":90,"k":85},{"i":46,"m":12,"a":104,"b":96,"k":92},
{"i":47,"m":1,"a":118,"b":112,"k":109,"v":108},{"i":47,"m":2,"a":104,"b":98,"k":95,"v":94},{"i":47,"m":3,"a":116,"b":106,"k":105,"v":99},{"i":47,"m":4,"a":108,"b":100,"k":97,"v":97},{"i":47,"m":5,"a":110,"b":104,"k":102,"v":102},{"i":47,"m":6,"a":106,"b":98,"k":98,"v":97},{"i":47,"m":7,"a":106,"b":100,"k":98,"v":146},{"i":47,"m":8,"a":102,"b":96,"k":95,"v":105},{"i":47,"m":9,"a":100,"b":96,"k":92,"v":116},{"i":47,"m":10,"a":106,"b":100,"k":102},{"i":47,"m":11,"a":100,"b":94,"k":92},{"i":47,"m":12,"a":106,"b":100,"k":98},
{"i":48,"m":1,"a":124,"b":116,"k":114,"v":116},{"i":48,"m":2,"a":110,"b":104,"k":105,"v":100},{"i":48,"m":3,"a":126,"b":112,"k":110,"v":105},{"i":48,"m":4,"a":114,"b":104,"k":104,"v":98},{"i":48,"m":5,"a":122,"b":110,"k":109,"v":112},{"i":48,"m":6,"a":114,"b":102,"k":102,"v":105},{"i":48,"m":7,"a":112,"b":106,"k":104,"v":146},{"i":48,"m":8,"a":112,"b":100,"k":100,"v":123},{"i":48,"m":9,"a":106,"b":100,"k":100,"v":123},{"i":48,"m":10,"a":114,"b":106,"k":107},{"i":48,"m":11,"a":112,"b":102,"k":100},{"i":48,"m":12,"a":116,"b":106,"k":104},
{"i":49,"m":1,"a":130,"b":120,"k":123,"v":117},{"i":49,"m":2,"a":114,"b":104,"k":105,"v":95},{"i":49,"m":3,"a":124,"b":112,"k":110,"v":102},{"i":49,"m":4,"a":114,"b":104,"k":106,"v":100},{"i":49,"m":5,"a":116,"b":106,"k":109,"v":102},{"i":49,"m":6,"a":112,"b":100,"k":105,"v":100},{"i":49,"m":7,"a":116,"b":96,"k":106,"v":112},{"i":49,"m":8,"a":108,"b":100,"k":102,"v":100},{"i":49,"m":9,"a":106,"b":102,"k":100,"v":116},{"i":49,"m":10,"a":112,"b":106,"k":109},{"i":49,"m":11,"a":106,"b":100,"k":100},{"i":49,"m":12,"a":108,"b":102,"k":104},
{"i":50,"m":1,"a":119,"b":109,"k":89,"v":86},{"i":50,"m":2,"a":100,"b":91,"k":81,"v":79},{"i":50,"m":3,"a":123,"b":95,"k":86,"v":89},{"i":50,"m":4,"a":91,"b":86,"k":81,"v":81},{"i":50,"m":5,"a":114,"b":81,"k":86,"v":104},{"i":50,"m":6,"a":100,"b":95,"k":83,"v":86},{"i":50,"m":7,"a":123,"b":109,"k":85,"v":125},{"i":50,"m":8,"a":91,"b":105,"k":83,"v":109},{"i":50,"m":9,"a":95,"b":91,"k":81,"v":106},{"i":50,"m":10,"a":109,"b":95,"k":83},{"i":50,"m":11,"a":95,"b":81,"k":80},{"i":50,"m":12,"a":91,"b":100,"k":78},
{"i":51,"m":1,"a":112,"b":100,"k":102,"v":105},{"i":51,"m":2,"a":94,"b":84,"k":86,"v":80},{"i":51,"m":3,"a":108,"b":104,"k":100,"v":102},{"i":51,"m":4,"a":100,"b":88,"k":91,"v":87},{"i":51,"m":5,"a":102,"b":82,"k":86,"v":80},{"i":51,"m":6,"a":96,"b":86,"k":89,"v":95},{"i":51,"m":7,"a":98,"b":84,"k":91,"v":100},{"i":51,"m":8,"a":94,"b":88,"k":88,"v":94},{"i":51,"m":9,"a":92,"b":82,"k":83,"v":95},{"i":51,"m":10,"a":96,"b":90,"k":89},{"i":51,"m":11,"a":92,"b":84,"k":86},{"i":51,"m":12,"a":96,"b":90,"k":91},
{"i":52,"m":1,"a":114,"b":100,"k":89,"v":81},{"i":52,"m":2,"a":104,"b":109,"k":77,"v":74},{"i":52,"m":3,"a":109,"b":86,"k":83,"v":86},{"i":52,"m":4,"a":86,"b":77,"k":78,"v":79},{"i":52,"m":5,"a":100,"b":95,"k":81,"v":94},{"i":52,"m":6,"a":91,"b":72,"k":77,"v":68},{"i":52,"m":7,"a":95,"b":81,"k":77,"v":93},{"i":52,"m":8,"a":86,"b":95,"k":72,"v":81},{"i":52,"m":9,"a":72,"b":81,"k":65,"v":76},{"i":52,"m":10,"a":100,"b":77,"k":81},{"i":52,"m":11,"a":86,"b":100,"k":70},{"i":52,"m":12,"a":105,"b":91,"k":80},
{"i":53,"m":1,"a":122,"b":116,"k":119,"v":120},{"i":53,"m":2,"a":108,"b":98,"k":100,"v":91},{"i":53,"m":3,"a":118,"b":108,"k":114,"v":111},{"i":53,"m":4,"a":110,"b":100,"k":102,"v":98},{"i":53,"m":5,"a":114,"b":104,"k":109,"v":117},{"i":53,"m":6,"a":110,"b":100,"k":105,"v":86},{"i":53,"m":7,"a":112,"b":100,"k":105,"v":107},{"i":53,"m":8,"a":106,"b":98,"k":102,"v":104},{"i":53,"m":9,"a":106,"b":96,"k":100,"v":106},{"i":53,"m":10,"a":112,"b":104,"k":109},{"i":53,"m":11,"a":106,"b":98,"k":102},{"i":53,"m":12,"a":110,"b":104,"k":105},
{"i":54,"m":1,"a":112,"b":104,"k":101,"v":99},{"i":54,"m":2,"a":96,"b":90,"k":87,"v":82},{"i":54,"m":3,"a":108,"b":98,"k":93,"v":88},{"i":54,"m":4,"a":106,"b":94,"k":89,"v":91},{"i":54,"m":5,"a":102,"b":94,"k":91,"v":107},{"i":54,"m":6,"a":96,"b":88,"k":85,"v":94},{"i":54,"m":7,"a":94,"b":86,"k":85,"v":99},{"i":54,"m":8,"a":92,"b":84,"k":83,"v":83},{"i":54,"m":9,"a":88,"b":82,"k":83,"v":91},{"i":54,"m":10,"a":100,"b":94,"k":93},{"i":54,"m":11,"a":98,"b":92,"k":87},{"i":54,"m":12,"a":100,"b":94,"k":87},
{"i":55,"m":1,"a":116,"b":106,"k":103,"v":104},{"i":55,"m":2,"a":100,"b":92,"k":87,"v":87},{"i":55,"m":3,"a":124,"b":102,"k":93,"v":92},{"i":55,"m":4,"a":106,"b":98,"k":87,"v":82},{"i":55,"m":5,"a":114,"b":102,"k":91,"v":111},{"i":55,"m":6,"a":100,"b":92,"k":85,"v":82},{"i":55,"m":7,"a":102,"b":96,"k":85,"v":123},{"i":55,"m":8,"a":96,"b":84,"k":83,"v":93},{"i":55,"m":9,"a":90,"b":86,"k":83,"v":111},{"i":55,"m":10,"a":106,"b":98,"k":91},{"i":55,"m":11,"a":100,"b":94,"k":87},{"i":55,"m":12,"a":108,"b":96,"k":87},
{"i":56,"m":1,"a":118,"b":110,"k":108,"v":104},{"i":56,"m":2,"a":100,"b":92,"k":89,"v":85},{"i":56,"m":3,"a":114,"b":104,"k":97,"v":99},{"i":56,"m":4,"a":104,"b":96,"k":89,"v":85},{"i":56,"m":5,"a":110,"b":100,"k":93,"v":115},{"i":56,"m":6,"a":98,"b":90,"k":85,"v":115},{"i":56,"m":7,"a":100,"b":92,"k":86,"v":102},{"i":56,"m":8,"a":96,"b":88,"k":83,"v":88},{"i":56,"m":9,"a":94,"b":88,"k":83,"v":100},{"i":56,"m":10,"a":104,"b":98,"k":94},{"i":56,"m":11,"a":98,"b":92,"k":87},{"i":56,"m":12,"a":100,"b":94,"k":89},
{"i":57,"m":1,"a":120,"b":108,"k":108,"v":105},{"i":57,"m":2,"a":100,"b":92,"k":89,"v":89},{"i":57,"m":3,"a":114,"b":102,"k":97,"v":91},{"i":57,"m":4,"a":104,"b":94,"k":91,"v":88},{"i":57,"m":5,"a":110,"b":98,"k":93,"v":119},{"i":57,"m":6,"a":100,"b":92,"k":89,"v":92},{"i":57,"m":7,"a":102,"b":94,"k":89,"v":107},{"i":57,"m":8,"a":98,"b":88,"k":86,"v":93},{"i":57,"m":9,"a":94,"b":86,"k":86,"v":105},{"i":57,"m":10,"a":104,"b":96,"k":97},{"i":57,"m":11,"a":94,"b":86,"k":89},{"i":57,"m":12,"a":118,"b":96,"k":89},
{"i":58,"m":1,"a":116,"b":108,"k":103,"v":103},{"i":58,"m":2,"a":98,"b":92,"k":87,"v":89},{"i":58,"m":3,"a":110,"b":102,"k":98,"v":86},{"i":58,"m":4,"a":102,"b":94,"k":92,"v":92},{"i":58,"m":5,"a":108,"b":98,"k":94,"v":133},{"i":58,"m":6,"a":100,"b":92,"k":90,"v":107},{"i":58,"m":7,"a":102,"b":90,"k":90,"v":115},{"i":58,"m":8,"a":96,"b":88,"k":87,"v":101},{"i":58,"m":9,"a":92,"b":102,"k":85,"v":107},{"i":58,"m":10,"a":102,"b":94,"k":94},{"i":58,"m":11,"a":94,"b":88,"k":85},{"i":58,"m":12,"a":108,"b":96,"k":87},
{"i":59,"m":1,"a":122,"b":112,"k":106,"v":106},{"i":59,"m":2,"a":102,"b":94,"k":89,"v":92},{"i":59,"m":3,"a":114,"b":104,"k":98,"v":101},{"i":59,"m":4,"a":104,"b":96,"k":92,"v":90},{"i":59,"m":5,"a":110,"b":100,"k":95,"v":99},{"i":59,"m":6,"a":104,"b":96,"k":91,"v":106},{"i":59,"m":7,"a":102,"b":94,"k":89,"v":122},{"i":59,"m":8,"a":98,"b":90,"k":85,"v":91},{"i":59,"m":9,"a":96,"b":88,"k":85,"v":119},{"i":59,"m":10,"a":104,"b":96,"k":94},{"i":59,"m":11,"a":100,"b":92,"k":85},{"i":59,"m":12,"a":110,"b":96,"k":92},
{"i":60,"m":1,"a":112,"b":106,"k":101,"v":98},{"i":60,"m":2,"a":98,"b":92,"k":87,"v":87},{"i":60,"m":3,"a":110,"b":102,"k":94,"v":94},{"i":60,"m":4,"a":104,"b":96,"k":89,"v":91},{"i":60,"m":5,"a":106,"b":98,"k":91,"v":103},{"i":60,"m":6,"a":100,"b":94,"k":89,"v":104},{"i":60,"m":7,"a":102,"b":90,"k":89,"v":126},{"i":60,"m":8,"a":96,"b":88,"k":85,"v":99},{"i":60,"m":9,"a":94,"b":86,"k":85,"v":110},{"i":60,"m":10,"a":102,"b":96,"k":94},{"i":60,"m":11,"a":96,"b":90,"k":85},{"i":60,"m":12,"a":102,"b":96,"k":91},
{"i":61,"m":1,"a":118,"b":110,"k":106,"v":106},{"i":61,"m":2,"a":102,"b":94,"k":89,"v":89},{"i":61,"m":3,"a":112,"b":104,"k":98,"v":98},{"i":61,"m":4,"a":116,"b":98,"k":94,"v":96},{"i":61,"m":5,"a":108,"b":102,"k":96,"v":107},{"i":61,"m":6,"a":104,"b":96,"k":92,"v":94},{"i":61,"m":7,"a":106,"b":98,"k":95,"v":147},{"i":61,"m":8,"a":100,"b":92,"k":91,"v":106},{"i":61,"m":9,"a":98,"b":90,"k":87,"v":119},{"i":61,"m":10,"a":104,"b":98,"k":94},{"i":61,"m":11,"a":98,"b":90,"k":85},{"i":61,"m":12,"a":106,"b":98,"k":92},
{"i":62,"m":1,"a":116,"b":106,"k":110,"v":118},{"i":62,"m":2,"a":102,"b":97,"k":88,"v":95},{"i":62,"m":3,"a":120,"b":88,"k":102,"v":102},{"i":62,"m":4,"a":83,"b":79,"k":93,"v":92},{"i":62,"m":5,"a":116,"b":102,"k":97,"v":101},{"i":62,"m":6,"a":88,"b":102,"k":93,"v":102},{"i":62,"m":7,"a":97,"b":88,"k":93,"v":102},{"i":62,"m":8,"a":88,"b":97,"k":93,"v":102},{"i":62,"m":9,"a":125,"b":83,"k":90,"v":118},{"i":62,"m":10,"a":97,"b":106,"k":95},{"i":62,"m":11,"a":93,"b":95,"k":93},{"i":62,"m":12,"a":97,"b":90,"k":93},
{"i":63,"m":1,"a":112,"b":104,"k":99,"v":92},{"i":63,"m":2,"a":98,"b":90,"k":87,"v":83},{"i":63,"m":3,"a":110,"b":98,"k":91,"v":91},{"i":63,"m":4,"a":104,"b":94,"k":90,"v":90},{"i":63,"m":5,"a":102,"b":94,"k":91,"v":96},{"i":63,"m":6,"a":96,"b":88,"k":84,"v":115},{"i":63,"m":7,"a":98,"b":90,"k":84,"v":101},{"i":63,"m":8,"a":92,"b":84,"k":81,"v":82},{"i":63,"m":9,"a":90,"b":84,"k":81,"v":87},{"i":63,"m":10,"a":98,"b":92,"k":91},{"i":63,"m":11,"a":94,"b":88,"k":85},{"i":63,"m":12,"a":104,"b":92,"k":85},
{"i":64,"m":1,"a":104,"b":96,"k":92,"v":89},{"i":64,"m":2,"a":90,"b":84,"k":81,"v":77},{"i":64,"m":3,"a":104,"b":94,"k":87,"v":88},{"i":64,"m":4,"a":98,"b":88,"k":84,"v":89},{"i":64,"m":5,"a":100,"b":92,"k":87,"v":90},{"i":64,"m":6,"a":92,"b":86,"k":82,"v":106},{"i":64,"m":7,"a":94,"b":84,"k":82,"v":90},{"i":64,"m":8,"a":90,"b":80,"k":77,"v":82},{"i":64,"m":9,"a":84,"b":78,"k":73,"v":106},{"i":64,"m":10,"a":94,"b":90,"k":87},{"i":64,"m":11,"a":92,"b":86,"k":81},{"i":64,"m":12,"a":94,"b":88,"k":82},
{"i":65,"m":1,"a":110,"b":100,"k":94,"v":90},{"i":65,"m":2,"a":94,"b":86,"k":81,"v":80},{"i":65,"m":3,"a":104,"b":96,"k":87,"v":90},{"i":65,"m":4,"a":96,"b":88,"k":82,"v":82},{"i":65,"m":5,"a":100,"b":92,"k":86,"v":89},{"i":65,"m":6,"a":94,"b":86,"k":81,"v":98},{"i":65,"m":7,"a":92,"b":86,"k":81,"v":92},{"i":65,"m":8,"a":90,"b":82,"k":77,"v":80},{"i":65,"m":9,"a":88,"b":82,"k":77,"v":94},{"i":65,"m":10,"a":98,"b":92,"k":86},{"i":65,"m":11,"a":94,"b":88,"k":81},{"i":65,"m":12,"a":96,"b":90,"k":77},
{"i":66,"m":1,"a":122,"b":112,"k":106,"v":106},{"i":66,"m":2,"a":106,"b":100,"k":92,"v":92},{"i":66,"m":3,"a":124,"b":108,"k":99,"v":105},{"i":66,"m":4,"a":114,"b":102,"k":96,"v":100},{"i":66,"m":5,"a":116,"b":104,"k":99,"v":124},{"i":66,"m":6,"a":108,"b":100,"k":95,"v":131},{"i":66,"m":7,"a":106,"b":98,"k":94,"v":122},{"i":66,"m":8,"a":104,"b":92,"k":92,"v":92},{"i":66,"m":9,"a":100,"b":94,"k":90,"v":117},{"i":66,"m":10,"a":108,"b":102,"k":99},{"i":66,"m":11,"a":104,"b":92,"k":90},{"i":66,"m":12,"a":114,"b":100,"k":95},
{"i":67,"m":1,"a":106,"b":100,"k":96,"v":97},{"i":67,"m":2,"a":88,"b":82,"k":77,"v":75},{"i":67,"m":3,"a":100,"b":92,"k":87,"v":87},{"i":67,"m":4,"a":94,"b":86,"k":81,"v":76},{"i":67,"m":5,"a":96,"b":88,"k":85,"v":108},{"i":67,"m":6,"a":92,"b":86,"k":81,"v":76},{"i":67,"m":7,"a":94,"b":86,"k":81,"v":103},{"i":67,"m":8,"a":88,"b":82,"k":77,"v":92},{"i":67,"m":9,"a":84,"b":80,"k":73,"v":88},{"i":67,"m":10,"a":90,"b":86,"k":85},{"i":67,"m":11,"a":86,"b":82,"k":79},{"i":67,"m":12,"a":88,"b":82,"k":79},
{"i":68,"m":1,"a":128,"b":116,"k":112,"v":112},{"i":68,"m":2,"a":106,"b":98,"k":92,"v":92},{"i":68,"m":3,"a":122,"b":110,"k":105,"v":101},{"i":68,"m":4,"a":112,"b":104,"k":99,"v":96},{"i":68,"m":5,"a":116,"b":106,"k":103,"v":101},{"i":68,"m":6,"a":108,"b":100,"k":99,"v":101},{"i":68,"m":7,"a":110,"b":102,"k":101,"v":146},{"i":68,"m":8,"a":104,"b":96,"k":96,"v":105},{"i":68,"m":9,"a":102,"b":94,"k":92,"v":126},{"i":68,"m":10,"a":110,"b":104,"k":103},{"i":68,"m":11,"a":102,"b":96,"k":94},{"i":68,"m":12,"a":108,"b":102,"k":99},
{"i":69,"m":1,"a":150,"b":134,"k":131,"v":128},{"i":69,"m":2,"a":120,"b":112,"k":112,"v":103},{"i":69,"m":3,"a":134,"b":124,"k":126,"v":119},{"i":69,"m":4,"a":126,"b":112,"k":117,"v":117},{"i":69,"m":5,"a":128,"b":118,"k":122,"v":135},{"i":69,"m":6,"a":120,"b":108,"k":112,"v":114},{"i":69,"m":7,"a":124,"b":114,"k":117,"v":128},{"i":69,"m":8,"a":118,"b":108,"k":112,"v":112},{"i":69,"m":9,"a":114,"b":104,"k":106,"v":128},{"i":69,"m":10,"a":124,"b":116,"k":119},{"i":69,"m":11,"a":118,"b":112,"k":112},{"i":69,"m":12,"a":130,"b":116,"k":115},
{"i":70,"m":1,"a":110,"b":102,"k":98,"v":97},{"i":70,"m":2,"a":96,"b":88,"k":84,"v":82},{"i":70,"m":3,"a":110,"b":98,"k":91,"v":91},{"i":70,"m":4,"a":100,"b":92,"k":87,"v":89},{"i":70,"m":5,"a":104,"b":96,"k":89,"v":89},{"i":70,"m":6,"a":94,"b":88,"k":83,"v":101},{"i":70,"m":7,"a":96,"b":90,"k":83,"v":98},{"i":70,"m":8,"a":92,"b":86,"k":80,"v":82},{"i":70,"m":9,"a":90,"b":84,"k":78,"v":97},{"i":70,"m":10,"a":98,"b":92,"k":91},{"i":70,"m":11,"a":94,"b":88,"k":83},{"i":70,"m":12,"a":100,"b":92,"k":87},
{"i":71,"m":1,"a":104,"b":96,"k":94,"v":92},{"i":71,"m":2,"a":92,"b":86,"k":83,"v":83},{"i":71,"m":3,"a":106,"b":96,"k":89,"v":85},{"i":71,"m":4,"a":96,"b":88,"k":84,"v":84},{"i":71,"m":5,"a":100,"b":94,"k":89,"v":95},{"i":71,"m":6,"a":94,"b":86,"k":83,"v":89},{"i":71,"m":7,"a":94,"b":88,"k":83,"v":112},{"i":71,"m":8,"a":90,"b":82,"k":80,"v":87},{"i":71,"m":9,"a":84,"b":78,"k":75,"v":100},{"i":71,"m":10,"a":94,"b":88,"k":84},{"i":71,"m":11,"a":90,"b":86,"k":82},{"i":71,"m":12,"a":96,"b":88,"k":84},
{"i":72,"m":1,"a":150,"b":134,"k":128,"v":131},{"i":72,"m":2,"a":116,"b":108,"k":109,"v":109},{"i":72,"m":3,"a":136,"b":122,"k":128,"v":129},{"i":72,"m":4,"a":128,"b":112,"k":121,"v":123},{"i":72,"m":5,"a":128,"b":114,"k":118,"v":106},{"i":72,"m":6,"a":118,"b":104,"k":109,"v":107},{"i":72,"m":7,"a":124,"b":108,"k":118,"v":116},{"i":72,"m":8,"a":118,"b":106,"k":114,"v":125},{"i":72,"m":9,"a":112,"b":102,"k":109,"v":114},{"i":72,"m":10,"a":126,"b":112,"k":118},{"i":72,"m":11,"a":118,"b":106,"k":112},{"i":72,"m":12,"a":128,"b":108,"k":116},
{"i":73,"m":1,"a":150,"b":136,"k":128,"v":131},{"i":73,"m":2,"a":122,"b":114,"k":112,"v":114},{"i":73,"m":3,"a":146,"b":128,"k":122,"v":125},{"i":73,"m":4,"a":128,"b":118,"k":116,"v":112},{"i":73,"m":5,"a":134,"b":116,"k":109,"v":105},{"i":73,"m":6,"a":122,"b":112,"k":106,"v":109},{"i":73,"m":7,"a":118,"b":110,"k":106,"v":112},{"i":73,"m":8,"a":132,"b":114,"k":109,"v":119},{"i":73,"m":9,"a":112,"b":108,"k":100,"v":134},{"i":73,"m":10,"a":126,"b":108,"k":114},{"i":73,"m":11,"a":114,"b":106,"k":109},{"i":73,"m":12,"a":146,"b":118,"k":109},
{"i":74,"m":1,"a":140,"b":130,"k":131,"v":129},{"i":74,"m":2,"a":122,"b":114,"k":116,"v":116},{"i":74,"m":3,"a":132,"b":122,"k":121,"v":117},{"i":74,"m":4,"a":124,"b":114,"k":116,"v":112},{"i":74,"m":5,"a":126,"b":116,"k":119,"v":137},{"i":74,"m":6,"a":120,"b":110,"k":114,"v":89},{"i":74,"m":7,"a":122,"b":112,"k":112,"v":137},{"i":74,"m":8,"a":118,"b":108,"k":106,"v":114},{"i":74,"m":9,"a":114,"b":106,"k":105,"v":136},{"i":74,"m":10,"a":122,"b":112,"k":109},{"i":74,"m":11,"a":126,"b":112,"k":112},{"i":74,"m":12,"a":134,"b":118,"k":116},
{"i":75,"m":1,"a":126,"b":118,"k":119,"v":116},{"i":75,"m":2,"a":110,"b":104,"k":103,"v":97},{"i":75,"m":3,"a":120,"b":112,"k":109,"v":108},{"i":75,"m":4,"a":112,"b":104,"k":103,"v":97},{"i":75,"m":5,"a":114,"b":106,"k":105,"v":119},{"i":75,"m":6,"a":108,"b":100,"k":100,"v":100},{"i":75,"m":7,"a":110,"b":102,"k":103,"v":119},{"i":75,"m":8,"a":106,"b":96,"k":97,"v":97},{"i":75,"m":9,"a":102,"b":94,"k":94,"v":120},{"i":75,"m":10,"a":112,"b":104,"k":106},{"i":75,"m":11,"a":108,"b":100,"k":100},{"i":75,"m":12,"a":114,"b":104,"k":100},
{"i":76,"m":1,"a":114,"b":95,"k":103,"v":104},{"i":76,"m":2,"a":81,"b":104,"k":95,"v":97},{"i":76,"m":3,"a":139,"b":114,"k":94,"v":89},{"i":76,"m":4,"a":95,"b":86,"k":95,"v":88},{"i":76,"m":5,"a":104,"b":100,"k":94,"v":94},{"i":76,"m":6,"a":114,"b":88,"k":91,"v":116},{"i":76,"m":7,"a":100,"b":104,"k":91,"v":121},{"i":76,"m":8,"a":119,"b":86,"k":86,"v":77},{"i":76,"m":9,"a":86,"b":95,"k":79,"v":131},{"i":76,"m":10,"a":104,"b":114,"k":95},{"i":76,"m":11,"a":104,"b":86,"k":84},{"i":76,"m":12,"a":123,"b":95,"k":100},
{"i":77,"m":1,"a":124,"b":114,"k":109,"v":112},{"i":77,"m":2,"a":104,"b":96,"k":94,"v":93},{"i":77,"m":3,"a":120,"b":108,"k":105,"v":105},{"i":77,"m":4,"a":108,"b":100,"k":97,"v":107},{"i":77,"m":5,"a":112,"b":100,"k":95,"v":94},{"i":77,"m":6,"a":102,"b":94,"k":91,"v":95},{"i":77,"m":7,"a":106,"b":96,"k":95,"v":131},{"i":77,"m":8,"a":100,"b":92,"k":91,"v":95},{"i":77,"m":9,"a":98,"b":90,"k":84,"v":112},{"i":77,"m":10,"a":104,"b":96,"k":95},{"i":77,"m":11,"a":100,"b":92,"k":91},{"i":77,"m":12,"a":104,"b":98,"k":95},
{"i":78,"m":1,"a":126,"b":114,"k":113,"v":117},{"i":78,"m":2,"a":104,"b":96,"k":94,"v":88},{"i":78,"m":3,"a":118,"b":108,"k":110,"v":102},{"i":78,"m":4,"a":106,"b":98,"k":99,"v":84},{"i":78,"m":5,"a":110,"b":100,"k":104,"v":114},{"i":78,"m":6,"a":102,"b":94,"k":94,"v":86},{"i":78,"m":7,"a":106,"b":98,"k":101,"v":99},{"i":78,"m":8,"a":100,"b":92,"k":94,"v":93},{"i":78,"m":9,"a":96,"b":90,"k":88,"v":106},{"i":78,"m":10,"a":104,"b":96,"k":99},{"i":78,"m":11,"a":108,"b":94,"k":99},{"i":78,"m":12,"a":116,"b":100,"k":104},
{"i":79,"m":1,"a":94,"b":102,"k":90,"v":92},{"i":79,"m":2,"a":80,"b":92,"k":85,"v":87},{"i":79,"m":3,"a":110,"b":90,"k":87,"v":81},{"i":79,"m":4,"a":96,"b":80,"k":85,"v":94},{"i":79,"m":5,"a":84,"b":92,"k":81,"v":88},{"i":79,"m":6,"a":88,"b":72,"k":76,"v":68},{"i":79,"m":7,"a":92,"b":84,"k":79,"v":148},{"i":79,"m":8,"a":74,"b":80,"k":73,"v":92},{"i":79,"m":9,"a":84,"b":76,"k":79,"v":88},{"i":79,"m":10,"a":90,"b":80,"k":81},{"i":79,"m":11,"a":96,"b":86,"k":85},{"i":79,"m":12,"a":102,"b":90,"k":85},
{"i":80,"m":1,"a":124,"b":116,"k":115,"v":113},{"i":80,"m":2,"a":104,"b":96,"k":99,"v":94},{"i":80,"m":3,"a":116,"b":108,"k":110,"v":96},{"i":80,"m":4,"a":108,"b":100,"k":101,"v":92},{"i":80,"m":5,"a":114,"b":104,"k":108,"v":106},{"i":80,"m":6,"a":106,"b":98,"k":99,"v":110},{"i":80,"m":7,"a":108,"b":100,"k":104,"v":114},{"i":80,"m":8,"a":102,"b":88,"k":94,"v":96},{"i":80,"m":9,"a":98,"b":90,"k":94,"v":122},{"i":80,"m":10,"a":108,"b":88,"k":101},{"i":80,"m":11,"a":106,"b":92,"k":101},{"i":80,"m":12,"a":140,"b":104,"k":101},
{"i":81,"m":1,"a":92,"b":72,"k":73,"v":71},{"i":81,"m":2,"a":84,"b":70,"k":79,"v":75},{"i":81,"m":3,"a":90,"b":66,"k":79,"v":71},{"i":81,"m":4,"a":84,"b":68,"k":76,"v":90},{"i":81,"m":5,"a":80,"b":64,"k":71,"v":106},{"i":81,"m":6,"a":72,"b":62,"k":66,"v":69},{"i":81,"m":7,"a":86,"b":68,"k":76,"v":136},{"i":81,"m":8,"a":92,"b":64,"k":69,"v":147},{"i":81,"m":9,"a":72,"b":84,"k":66,"v":111},{"i":81,"m":10,"a":84,"b":66,"k":69},{"i":81,"m":11,"a":70,"b":82,"k":76},{"i":81,"m":12,"a":92,"b":80,"k":85},
{"i":82,"m":1,"a":86,"b":78,"k":75,"v":75},{"i":82,"m":2,"a":104,"b":94,"k":90,"v":93},{"i":82,"m":3,"a":100,"b":90,"k":88,"v":88},{"i":82,"m":4,"a":94,"b":84,"k":85,"v":87},{"i":82,"m":5,"a":90,"b":78,"k":82,"v":139},{"i":82,"m":6,"a":82,"b":74,"k":76,"v":79},{"i":82,"m":7,"a":92,"b":76,"k":79,"v":147},{"i":82,"m":8,"a":86,"b":74,"k":79,"v":131},{"i":82,"m":9,"a":88,"b":76,"k":79,"v":122},{"i":82,"m":10,"a":90,"b":80,"k":79},{"i":82,"m":11,"a":96,"b":84,"k":82},{"i":82,"m":12,"a":102,"b":90,"k":94},
{"i":83,"m":1,"a":134,"b":124,"k":117,"v":122},{"i":83,"m":2,"a":120,"b":110,"k":107,"v":113},{"i":83,"m":3,"a":128,"b":116,"k":114,"v":104},{"i":83,"m":4,"a":118,"b":108,"k":104,"v":124},{"i":83,"m":5,"a":124,"b":112,"k":110,"v":131},{"i":83,"m":6,"a":104,"b":94,"k":96,"v":119},{"i":83,"m":7,"a":116,"b":104,"k":107,"v":145},{"i":83,"m":8,"a":106,"b":94,"k":98,"v":110},{"i":83,"m":9,"a":92,"b":84,"k":87,"v":101},{"i":83,"m":10,"a":112,"b":100,"k":104},{"i":83,"m":11,"a":114,"b":104,"k":104},{"i":83,"m":12,"a":110,"b":98,"k":104},
{"i":84,"m":1,"a":122,"b":108,"k":104,"v":103},{"i":84,"m":2,"a":112,"b":100,"k":101,"v":99},{"i":84,"m":3,"a":124,"b":108,"k":112,"v":92},{"i":84,"m":4,"a":108,"b":96,"k":98,"v":104},{"i":84,"m":5,"a":104,"b":92,"k":96,"v":149},{"i":84,"m":6,"a":100,"b":88,"k":94,"v":67},{"i":84,"m":7,"a":102,"b":90,"k":94,"v":145},{"i":84,"m":8,"a":100,"b":86,"k":93,"v":106},{"i":84,"m":9,"a":94,"b":80,"k":87,"v":98},{"i":84,"m":10,"a":106,"b":94,"k":98},{"i":84,"m":11,"a":110,"b":72,"k":104},{"i":84,"m":12,"a":108,"b":92,"k":100},
{"i":85,"m":1,"a":75,"b":78,"k":78,"v":69},{"i":85,"m":2,"a":98,"b":92,"k":98,"v":76},{"i":85,"m":3,"a":105,"b":96,"k":98,"v":89},{"i":85,"m":4,"a":98,"b":87,"k":101,"v":107},{"i":85,"m":5,"a":89,"b":78,"k":89,"v":149},{"i":85,"m":6,"a":73,"b":64,"k":80,"v":98},{"i":85,"m":7,"a":82,"b":78,"k":76,"v":136},{"i":85,"m":8,"a":91,"b":78,"k":80,"v":133},{"i":85,"m":9,"a":124,"b":106,"k":92,"v":108},{"i":85,"m":10,"a":101,"b":124,"k":85},{"i":85,"m":11,"a":129,"b":96,"k":89},{"i":85,"m":12,"a":96,"b":124,"k":110}],
"national":[{"m":1,"a":180000,"b":176000,"c":174000,"d":171000,"k":164400,"v":164400},{"m":2,"a":157000,"b":147000,"c":148000,"d":146000,"k":143000,"v":143300},{"m":3,"a":176500,"b":168000,"c":163000,"d":160000,"k":157800,"v":152600},{"m":4,"a":165000,"b":157000,"c":153000,"d":143000,"k":146700,"v":151100},{"m":5,"a":157000,"b":162000,"c":158000,"d":155000,"k":152600,"v":173300},{"m":6,"a":150000,"b":152000,"c":156000,"d":138000,"k":144400,"v":162200},{"m":7,"a":145000,"b":156000,"c":151000,"d":150000,"k":147400,"v":181500},{"m":8,"a":160000,"b":146000,"c":144000,"d":149000,"k":143000,"v":157000},{"m":9,"a":155000,"b":152000,"c":147000,"d":140000,"k":137800,"v":171100},{"m":10,"a":155000,"b":157000,"c":154000,"d":152000,"k":150400},{"m":11,"a":150000,"b":158000,"c":147000,"d":143000,"k":140000},{"m":12,"a":164000,"b":164000,"c":150000,"d":149000,"k":148100}],
"notes":[{"t":"2015–2019","m":1,"y":185100,"g":"gray"},{"t":"2020","m":8.64,"y":185100,"g":"red"},{"t":"128,000","m":5,"y":120000,"g":"red"},{"t":"избыточных","m":5,"y":101100,"g":"red"},{"t":"смертей","m":5,"y":82900,"g":"red"},{"t":"(апрель–сентябрь)","m":5,"y":65900,"g":"red"},{"t":"20,722","m":10,"y":120000,"g":"black"},{"t":"официально","m":10,"y":101100,"g":"black"},{"t":"смертей","m":10,"y":82900,"g":"black"},{"t":"от ковид19","m":10,"y":65900,"g":"black"},{"t":"6.2x разница","m":7.5,"y":25600,"g":"red"}]},
"hconcat":[
{"data":{"name":"panels"},"transform":[{"lookup":"i","from":{"data":{"name":"regions"},"key":"i","fields":["n","row","col","e"]}},{"filter":"datum.col<=8"}],"bounds":"flush","spacing":{"row":16.5,"column":14.1},"resolve":{"axis":{"x":"independent"}},
"facet":{"row":{"field":"row","type":"ordinal","header":null},"column":{"field":"col","type":"ordinal","header":null}},
"spec":{"width":74,"height":72,"encoding":{"x":{"field":"m","type":"quantitative","scale":{"domain":[0.53,12.47]},"axis":{"title":null,"ticks":false,"labels":false,"grid":false,"domainColor":"black","domainWidth":1.2}}},
"layer":[
{"mark":{"type":"line","color":"#bbbbbb","strokeWidth":0.7},"encoding":{"y":{"field":"a","type":"quantitative","scale":{"domain":[0,200]},"axis":null}}},
{"mark":{"type":"line","color":"#bbbbbb","strokeWidth":0.7},"encoding":{"y":{"field":"b","type":"quantitative"}}},
{"mark":{"type":"line","color":"black","strokeWidth":1.4},"encoding":{"y":{"field":"k","type":"quantitative"}}},
{"transform":[{"filter":"datum.m>=4&&datum.m<=9"}],"mark":{"type":"area","color":"red","opacity":0.4},"encoding":{"y":{"field":"k","type":"quantitative"},"y2":{"field":"v"}}},
{"mark":{"type":"line","color":"red","strokeWidth":1.6},"encoding":{"y":{"field":"v","type":"quantitative"}}},
{"mark":{"type":"circle","color":"red","size":13,"opacity":1},"encoding":{"y":{"field":"v","type":"quantitative"}}},
{"transform":[{"filter":"datum.m==1"}],"mark":{"type":"text","fontSize":9.7,"color":"black"},"encoding":{"x":{"datum":6.5},"y":{"datum":175.8},"text":{"field":"n"}}},
{"transform":[{"filter":"datum.m==1"}],"mark":{"type":"text","fontSize":11,"color":"red","align":"left"},"encoding":{"y":{"datum":22.8},"text":{"field":"e","format":","}}}]}},
{"vconcat":[
{"data":{"name":"panels"},"transform":[{"lookup":"i","from":{"data":{"name":"regions"},"key":"i","fields":["n","row","col","e"]}},{"filter":"datum.col>=9"}],"bounds":"flush","spacing":{"row":16.5,"column":14.1},"resolve":{"axis":{"x":"independent"}},
"facet":{"row":{"field":"row","type":"ordinal","header":null},"column":{"field":"col","type":"ordinal","header":null}},
"spec":{"width":74,"height":72,"encoding":{"x":{"field":"m","type":"quantitative","scale":{"domain":[0.53,12.47]},"axis":{"title":null,"ticks":false,"labels":false,"grid":false,"domainColor":"black","domainWidth":1.2}}},
"layer":[
{"mark":{"type":"line","color":"#bbbbbb","strokeWidth":0.7},"encoding":{"y":{"field":"a","type":"quantitative","scale":{"domain":[0,200]},"axis":null}}},
{"mark":{"type":"line","color":"#bbbbbb","strokeWidth":0.7},"encoding":{"y":{"field":"b","type":"quantitative"}}},
{"mark":{"type":"line","color":"black","strokeWidth":1.4},"encoding":{"y":{"field":"k","type":"quantitative"}}},
{"transform":[{"filter":"datum.m>=4&&datum.m<=9"}],"mark":{"type":"area","color":"red","opacity":0.4},"encoding":{"y":{"field":"k","type":"quantitative"},"y2":{"field":"v"}}},
{"mark":{"type":"line","color":"red","strokeWidth":1.6},"encoding":{"y":{"field":"v","type":"quantitative"}}},
{"mark":{"type":"circle","color":"red","size":13,"opacity":1},"encoding":{"y":{"field":"v","type":"quantitative"}}},
{"transform":[{"filter":"datum.m==1"}],"mark":{"type":"text","fontSize":9.7,"color":"black"},"encoding":{"x":{"datum":6.5},"y":{"datum":175.8},"text":{"field":"n"}}},
{"transform":[{"filter":"datum.m==1"}],"mark":{"type":"text","fontSize":11,"color":"red","align":"left"},"encoding":{"y":{"datum":22.8},"text":{"field":"e","format":","}}}]}},
{"hconcat":[{"data":{"values":[{"m":1}]},"width":147.5,"height":10,"mark":{"type":"point","opacity":0},"encoding":{}},
{"data":{"name":"national"},"width":319.4,"height":180,"title":{"text":"Российская Федерация","fontSize":16.7,"fontWeight":"normal","offset":0},"encoding":{"x":{"field":"m","type":"quantitative","scale":{"domain":[0.53,12.47]},"axis":{"values":[1,2,3,4,5,6,7,8,9,10,11,12],"labelExpr":"['Янв','Фев','Мар','Апр','Май','Июн','Июл','Авг','Сен','Окт','Ноя','Дек'][datum.value-1]","labelAngle":-45,"labelAlign":"center","labelBaseline":"middle","labelPadding":14,"labelFontSize":14,"labelOverlap":false,"labelColor":"black","grid":false,"title":null,"domainColor":"black","tickColor":"black"}}},
"layer":[
{"mark":{"type":"line","color":"#bbbbbb","strokeWidth":1},"encoding":{"y":{"field":"a","type":"quantitative","scale":{"domain":[0,200000]},"axis":{"values":[0,50000,100000,150000,200000],"format":"d","labelFontSize":14,"labelColor":"black","titleFontSize":13.7,"titleFontWeight":"normal","titleColor":"black","titlePadding":11,"title":"Смертей в месяц","grid":false,"domainColor":"black","tickColor":"black"}}}},
{"mark":{"type":"line","color":"#bbbbbb","strokeWidth":1},"encoding":{"y":{"field":"b","type":"quantitative"}}},
{"mark":{"type":"line","color":"#bbbbbb","strokeWidth":1},"encoding":{"y":{"field":"c","type":"quantitative"}}},
{"mark":{"type":"line","color":"#bbbbbb","strokeWidth":1},"encoding":{"y":{"field":"d","type":"quantitative"}}},
{"mark":{"type":"line","color":"black","strokeWidth":1.6},"encoding":{"y":{"field":"k","type":"quantitative"}}},
{"transform":[{"filter":"datum.m>=4&&datum.m<=9"}],"mark":{"type":"area","color":"red","opacity":0.4},"encoding":{"y":{"field":"k","type":"quantitative"},"y2":{"field":"v"}}},
{"mark":{"type":"line","color":"red","strokeWidth":1.6},"encoding":{"y":{"field":"v","type":"quantitative"}}},
{"mark":{"type":"circle","color":"red","size":26,"opacity":1},"encoding":{"y":{"field":"v","type":"quantitative"}}},
{"data":{"name":"notes"},"transform":[{"filter":"datum.g=='gray'"}],"mark":{"type":"text","fontSize":14,"baseline":"middle","align":"left","color":"#aaaaaa"},"encoding":{"x":{"field":"m","type":"quantitative"},"y":{"field":"y","type":"quantitative"},"text":{"field":"t"}}},
{"data":{"name":"notes"},"transform":[{"filter":"datum.g!='gray'"}],"mark":{"type":"text","fontSize":14,"baseline":"middle","align":"center"},"encoding":{"x":{"field":"m","type":"quantitative"},"y":{"field":"y","type":"quantitative"},"text":{"field":"t"},"color":{"field":"g","type":"nominal","scale":{"domain":["red","black"],"range":["#ff0000","#000000"]},"legend":null}}},
{"data":{"values":[{"t":"Дмитрий Кобак","m":20.17},{"t":"@hippopedoid","m":20.65}]},"mark":{"type":"text","angle":270,"align":"left","baseline":"middle","fontSize":10.8,"color":"black"},"encoding":{"y":{"datum":-131900},"text":{"field":"t"}}}]}],"spacing":0}],"spacing":124}]}
